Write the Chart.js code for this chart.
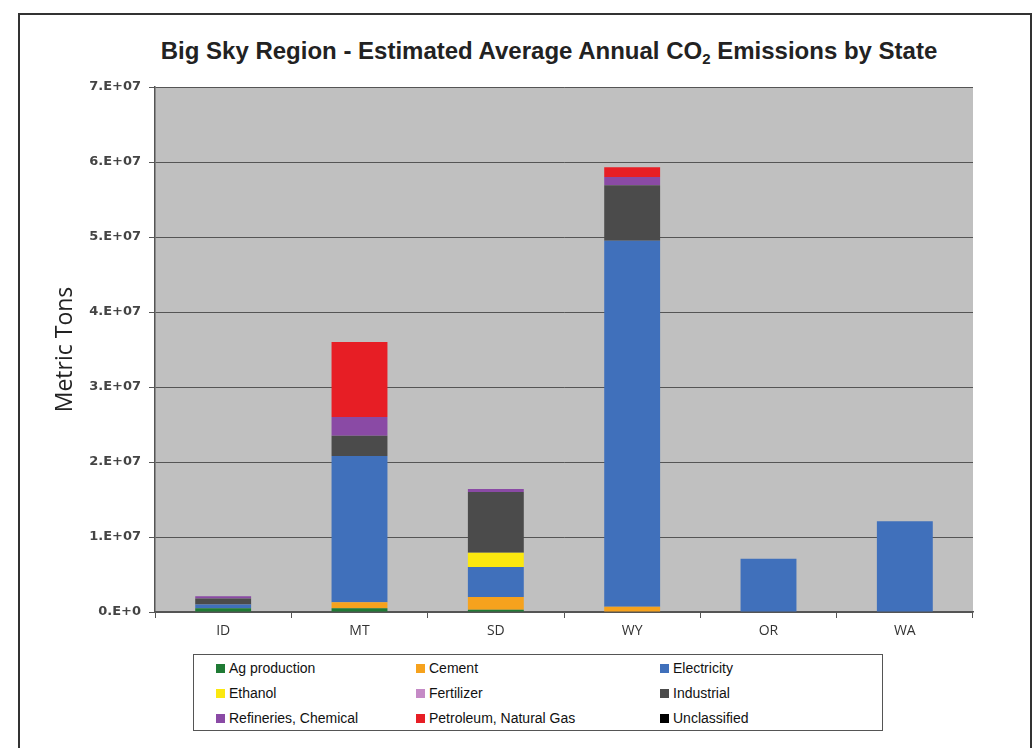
<!DOCTYPE html>
<html>
<head>
<meta charset="UTF-8" />
<title>Big Sky Region CO2 Emissions</title>
<script src="https://cdn.jsdelivr.net/npm/chart.js"></script>
<style>
  html, body { margin: 0; padding: 0; background: #fff; }
  #wrap { position: relative; width: 1032px; height: 748px; overflow: hidden; }
  #frame { position: absolute; left: 18px; top: 13px; width: 1014px; height: 760px; border: 2px solid #333; box-sizing: border-box; }
  #title { position: absolute; left: 100px; width: 898px; top: 37px; text-align: center;
           font-family: 'Liberation Sans', Arial, sans-serif; font-weight: bold; font-size: 24px; color: #222; }
  #title sub { font-size: 15px; vertical-align: -5px; line-height: 0; }
  canvas { position: absolute; left: 0; top: 0; }
  #legend { position: absolute; left: 193px; top: 654px; width: 690px; height: 77px;
            border: 1.5px solid #555; box-sizing: border-box; background: #fff; }
  .item { position: absolute; font-family: 'Liberation Sans', Arial, sans-serif; font-size: 14px; color: #111;
          line-height: 16px; white-space: nowrap; }
  .item i { display: inline-block; width: 9px; height: 9px; margin-right: 4px; vertical-align: 0px; }
</style>
</head>
<body>
<div id="wrap">
  <div id="frame"></div>
  <div id="title">Big Sky Region - Estimated Average Annual CO<sub>2</sub> Emissions by State</div>
  <canvas id="chart" width="1032" height="748"></canvas>
  <div id="legend"></div>
</div>
<script>
// ---------- data (metric tons) ----------
const states = ["ID", "MT", "SD", "WY", "OR", "WA"];

const agProduction = [500000, 500000, 300000, 0, 0, 0];
const cement       = [0, 800000, 1700000, 700000, 0, 0];
const electricity  = [500000, 19500000, 4000000, 48800000, 7100000, 12100000];
const ethanol      = [0, 0, 1900000, 0, 0, 0];
const fertilizer   = [0, 0, 0, 0, 0, 0];
const industrial   = [800000, 2700000, 8100000, 7400000, 0, 0];
const refineries   = [300000, 2500000, 400000, 1100000, 0, 0];
const petroleum    = [0, 10000000, 0, 1300000, 0, 0];
const unclassified = [0, 0, 0, 0, 0, 0];

const yTicks = [0, 1e7, 2e7, 3e7, 4e7, 5e7, 6e7, 7e7];

const series = [
  { label: "Ag production",          data: agProduction, color: "#1f7a34" },
  { label: "Cement",                 data: cement,       color: "#f6a21d" },
  { label: "Electricity",            data: electricity,  color: "#4070bb" },
  { label: "Ethanol",                data: ethanol,      color: "#fbe80f" },
  { label: "Fertilizer",             data: fertilizer,   color: "#c58ac6" },
  { label: "Industrial",             data: industrial,   color: "#4b4b4b" },
  { label: "Refineries, Chemical",   data: refineries,   color: "#8a4aa5" },
  { label: "Petroleum, Natural Gas", data: petroleum,    color: "#e71e25" },
  { label: "Unclassified",           data: unclassified, color: "#000000" },
];

// Excel style exponent label: 7.E+07, 0.E+0
function sciLabel(v) {
  if (v === 0) return "0.E+0";
  const exp = Math.floor(Math.log10(v));
  const m = Math.round(v / Math.pow(10, exp));
  return m + ".E+" + String(exp).padStart(2, "0");
}

// plot background
const plotBg = {
  id: "plotBg",
  beforeDraw(chart) {
    const { ctx, chartArea: a } = chart;
    ctx.save();
    ctx.fillStyle = "#c0c0c0";
    ctx.fillRect(a.left, a.top, a.right - a.left, a.bottom - a.top);
    ctx.restore();
  }
};

new Chart(document.getElementById("chart"), {
  type: "bar",
  data: {
    labels: states,
    datasets: series.map(s => ({
      label: s.label,
      data: s.data,
      backgroundColor: s.color,
      borderWidth: 0,
      barPercentage: 0.41,
      categoryPercentage: 1.0,
    })),
  },
  plugins: [plotBg],
  options: {
    responsive: false,
    animation: false,
    layout: { padding: { left: 0, right: 59, top: 87, bottom: 96 } },
    plugins: { legend: { display: false }, tooltip: { enabled: false }, title: { display: false } },
    scales: {
      x: {
        stacked: true,
        grid: { display: true, drawOnChartArea: false, offset: true, tickLength: 6, color: "#555", lineWidth: 1 },
        border: { color: "#555", width: 1.5 },
        ticks: { color: "#333", padding: 5, font: { family: "'Open Sans', sans-serif", size: 14 } },
        afterFit: s => { s.height = 40; },
      },
      y: {
        stacked: true,
        min: 0,
        max: 7e7,
        afterBuildTicks: s => { s.ticks = yTicks.map(v => ({ value: v })); },
        ticks: { color: "#444", padding: 8, callback: v => sciLabel(v),
                 font: { family: "'DejaVu Sans', sans-serif", size: 13, weight: "bold" } },
        grid: { color: "#555", lineWidth: 1, tickLength: 6 },
        border: { color: "#555", width: 1.5 },
        title: { display: true, text: "Metric Tons", color: "#222", padding: { top: 52, bottom: 0 },
                 font: { family: "'Open Sans', sans-serif", size: 23 } },
        afterFit: s => { s.width = 155; },
      },
    },
  },
});

// HTML legend in the boxed 3-column layout
const legendEl = document.getElementById("legend");
const colX = [22, 222, 466];
const rowY = [5, 30, 55];
series.forEach((s, i) => {
  const d = document.createElement("div");
  d.className = "item";
  d.style.left = colX[i % 3] + "px";
  d.style.top = rowY[Math.floor(i / 3)] + "px";
  d.innerHTML = '<i style="background:' + s.color + '"></i>' + s.label;
  legendEl.appendChild(d);
});
</script>
</body>
</html>
